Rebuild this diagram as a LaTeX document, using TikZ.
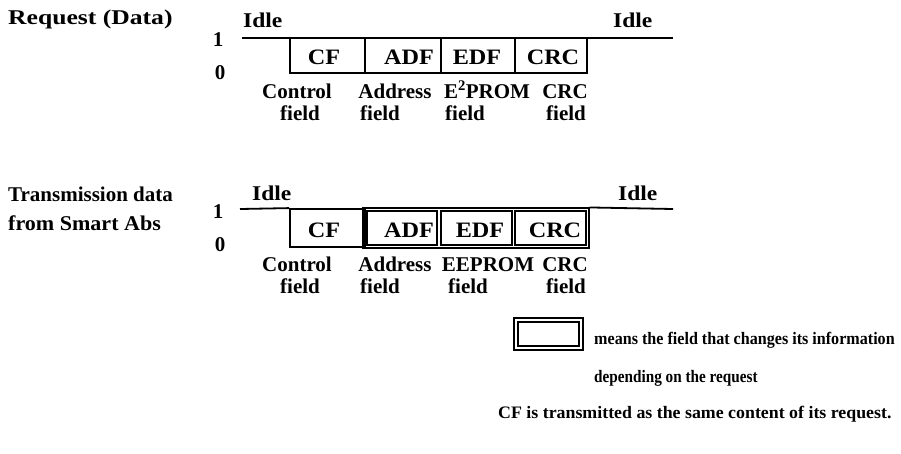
\documentclass[tikz,border=0pt]{standalone}
\usepackage{fontspec}
\setmainfont{Liberation Serif}
\begin{document}
\begin{tikzpicture}[x=1pt,y=-1pt,
  txt/.style={font=\bfseries\fontsize{21}{24}\selectfont, inner sep=0pt},
  boxtxt/.style={font=\bfseries\fontsize{22}{25}\selectfont, inner sep=0pt},
  small/.style={font=\bfseries\fontsize{17.5}{20}\selectfont, inner sep=0pt},
  sig/.style={line width=1.8pt},
  cell/.style={draw, line width=1.8pt, inner sep=0pt},
  thincell/.style={draw, line width=1.1pt, inner sep=0pt}]
\useasboundingbox (0,0) rectangle (901,453);

% ---------------- request frame ----------------
\node[txt, anchor=base west] (reqlbl) at (8,24) {\scalebox{1.22}[1]{Request (Data)}};
\node[txt, anchor=base west] (idleA) at (243,27) {\scalebox{1.12}[1]{Idle}};
\node[txt, anchor=base west] (idleB) at (613,27) {\scalebox{1.12}[1]{Idle}};
\node[txt] (oneA) at (218,40) {1};
\node[txt] (zeroA) at (220,73) {0};

\coordinate (sA0) at (242,38);
\coordinate (sA1) at (673,38);
\node[cell, minimum width=75pt, minimum height=35pt] (cfA) at (327.5,55.5) {};
\node[cell, minimum width=76pt, minimum height=35pt] (adfA) at (403,55.5) {};
\node[cell, minimum width=74pt, minimum height=35pt] (edfA) at (478,55.5) {};
\node[cell, minimum width=72pt, minimum height=35pt] (crcA) at (551,55.5) {};
\draw[sig] (sA0) -- (sA1);

\node[boxtxt] (cftA) at (324,57) {\scalebox{1.1}[1]{CF}};
\node[boxtxt] (adftA) at (409,57) {\scalebox{1.1}[1]{ADF}};
\node[boxtxt] (edftA) at (477,57) {\scalebox{1.1}[1]{EDF}};
\node[boxtxt] (crctA) at (553,57) {\scalebox{1.1}[1]{CRC}};

\node[txt, anchor=base] (ctlA) at (297,98) {Control};
\node[txt, anchor=base] (ctlfA) at (300,120) {field};
\node[txt, anchor=base] (adrA) at (395,98) {Address};
\node[txt, anchor=base] (adrfA) at (380,120) {field};
\node[txt, anchor=base] (epA) at (487,98) {E\textsuperscript{2}PROM};
\node[txt, anchor=base] (epfA) at (465,120) {field};
\node[txt, anchor=base] (crclA) at (565,98) {CRC};
\node[txt, anchor=base] (crcfA) at (566,120) {field};

% ---------------- transmission frame ----------------
\node[txt, anchor=base west] (trlbl) at (8,201) {Transmission data};
\node[txt, anchor=base west] (trlbl2) at (8,230) {\scalebox{1.05}[1]{from Smart Abs}};
\node[txt, anchor=base west] (idleC) at (252,200) {\scalebox{1.12}[1]{Idle}};
\node[txt, anchor=base west] (idleD) at (618,200) {\scalebox{1.12}[1]{Idle}};
\node[txt] (oneB) at (218,212) {1};
\node[txt] (zeroB) at (220,245) {0};

\coordinate (sB0) at (240,209);
\coordinate (sB1) at (673,209);
\node[cell, minimum width=75pt, minimum height=38pt] (cfB) at (327.5,228) {};
\draw[sig] (sB0) -- (cfB.north west);
\node[thincell, minimum width=226pt, minimum height=40pt] (frameB) at (476,228) {};
\node[thincell, minimum width=70pt, minimum height=34pt] (adfB) at (402,228) {};
\node[thincell, minimum width=71pt, minimum height=34pt] (edfB) at (476.5,228) {};
\node[thincell, minimum width=71pt, minimum height=34pt] (crcB) at (550.5,228) {};
\draw[sig] (frameB.north east) -- (sB1);

\node[boxtxt] (cftB) at (324,230) {\scalebox{1.1}[1]{CF}};
\node[boxtxt] (adftB) at (409,230) {\scalebox{1.1}[1]{ADF}};
\node[boxtxt] (edftB) at (480,230) {\scalebox{1.1}[1]{EDF}};
\node[boxtxt] (crctB) at (555,230) {\scalebox{1.1}[1]{CRC}};

\node[txt, anchor=base] (ctlB) at (297,271) {Control};
\node[txt, anchor=base] (ctlfB) at (300,293) {field};
\node[txt, anchor=base] (adrB) at (395,271) {Address};
\node[txt, anchor=base] (adrfB) at (380,293) {field};
\node[txt, anchor=base] (epB) at (488,271) {EEPROM};
\node[txt, anchor=base] (epfB) at (468,293) {field};
\node[txt, anchor=base] (crclB) at (565,271) {CRC};
\node[txt, anchor=base] (crcfB) at (566,293) {field};

% ---------------- legend ----------------
\node[thincell, minimum width=69pt, minimum height=32pt] (keyout) at (548.5,334) {};
\node[thincell, minimum width=61pt, minimum height=24pt] (keyin) at (548.5,334) {};
\node[small, anchor=base west] (key1) at (594,344) {\scalebox{0.92}[1]{means the field that changes its information}};
\node[small, anchor=base west] (key2) at (594,382) {\scalebox{0.87}[1]{depending on the request}};
\node[small, anchor=base west] (key3) at (498,418) {\scalebox{1.02}[1]{CF is transmitted as the same content of its request.}};
\end{tikzpicture}
\end{document}
